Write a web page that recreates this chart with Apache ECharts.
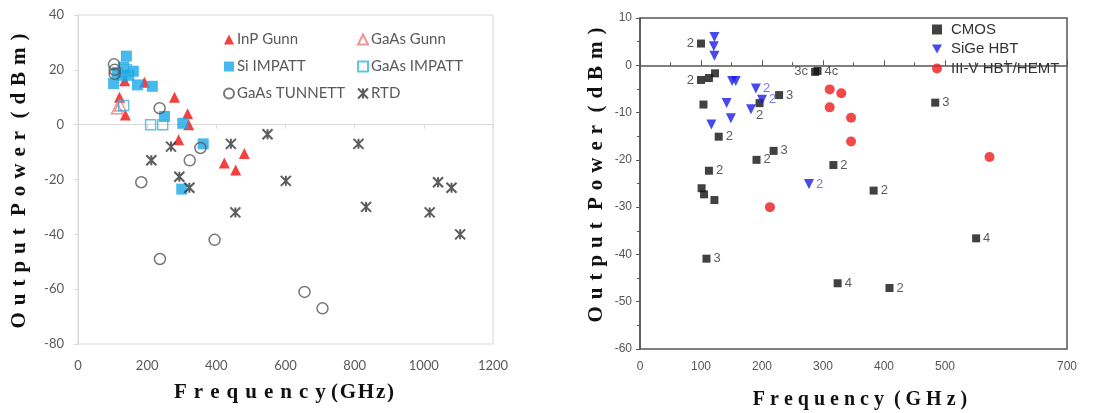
<!DOCTYPE html>
<html><head><meta charset="utf-8">
<script src="https://cdn.jsdelivr.net/npm/echarts@6/dist/echarts.min.js"></script>
<style>html,body{margin:0;padding:0;background:#fff}#c{width:1112px;height:413px}</style>
</head><body><div id="c"></div>
<script>
// ---------- Left chart data: [frequency GHz, output power dBm] ----------
const inpGunn = [[120,10],[137,3.5],[135,16],[192,15.5],[279,10],[317,4],[320,0],[291,-5.5],[423,-14],[456,-16.5],[481,-10.5]];
const gaasGunn = [[113,6],[122,7]];
const siImpatt = [[103,15],[140,25],[113,19],[128,18],[147,18],[160,19.5],[172,14.5],[215,14],[250,3],[303,0.5],[362,-7],[300,-23.5],[132,21]];
const gaasImpatt = [[132,7],[210,0],[245,0],[140,20]];
const gaasTunnett = [[104,22],[106,20],[106,18.5],[236,6],[323,-13],[354,-8.5],[183,-21],[237,-49],[395,-42],[655,-61],[707,-67]];
const rtd = [[212,-13],[269,-8],[293,-19],[322,-23],[442,-7],[548,-3.5],[601,-20.5],[811,-7],[833,-30],[1041,-21],[1080,-23],[1017,-32],[455,-32],[1105,-40]];
const leftXTicks = [0,200,400,600,800,1000,1200];
const leftYTicks = [-80,-60,-40,-20,0,20,40];

// ---------- Right chart data ----------
const cmos = [[100,4.6],[100,-3.1],[113,-2.7],[123,-1.7],[104,-8.3],[129,-15.1],[196,-8],[228,-6.3],[287,-1.4],[291,-1.2],[484,-7.9],[219,-18.1],[191,-20],[317,-21.1],[113,-22.3],[101,-26],[105,-27.3],[122,-28.5],[383,-26.5],[109,-40.9],[324,-46.1],[409,-47.1],[551,-36.6]];
const cmosLabels = ['2','2','','','','2','2','3','3c','4c','3','3','2','2','2','','','','2','3','4','2','4'];
const sige = [[122,6],[121,4],[122,2],[151,-3.3],[157,-3.3],[142,-8],[149,-11.2],[117,-12.5],[190,-4.9],[200,-7.3],[182,-9.3],[277,-25.1]];
const sigeLabels = ['','','','','','','','','2','2','','2'];
const iiiv = [[311,-5.1],[330,-5.9],[311,-8.9],[346,-11.1],[346,-16.1],[573,-19.4],[213,-30]];
const rightXTickLabels = ['0','100','200','300','400','500','','700'];

// ---------- titles ----------
const G = '\u2004';
function sp(s, g){ return s.split('').join(g); }
const yTitle = sp('Output', G) + G + ' ' + sp('Power', G) + G + ' ' + sp('(dBm)', G);
const xTitleL = sp('Frequency', G) + ' ' + sp('(GHz)', '\u200A');
const xTitleR = sp('Frequency', ' ') + '  ' + sp('(GHz)', ' ');

const cmosPos = {0:'left',1:'left',8:'left',6:'bottom'};

const chart = echarts.init(document.getElementById('c'));
const lblFont = 'Lato, "Liberation Sans", sans-serif';
const arial = '"Liberation Sans", Arial, sans-serif';
const star = 'path://M0,0L10,10M10,0L0,10M5,0L5,10';
const downTri = 'path://M0,0L10,0L5,9Z';

chart.setOption({
  animation:false,
  grid:[
    {left:78, top:15, width:415, height:329, show:true, borderColor:'#d9d9d9', borderWidth:1},
    {left:640, top:18, width:427, height:331, show:true, borderColor:'#555', borderWidth:1.5}
  ],
  xAxis:[
    {gridIndex:0, type:'value', min:leftXTicks[0], max:leftXTicks[leftXTicks.length-1], interval:200,
     axisLine:{lineStyle:{color:'#d9d9d9'}}, axisTick:{show:true, length:4, lineStyle:{color:'#d9d9d9'}},
     axisLabel:{color:'#595959', fontSize:13, fontFamily:lblFont, margin:15, formatter:(v)=>String(v)}, splitLine:{show:false}},
    {gridIndex:1, type:'value', min:0, max:700, interval:100,
     axisLine:{lineStyle:{color:'#555', width:1.5}}, axisTick:{show:true, inside:true, length:5, lineStyle:{color:'#555'}},
     minorTick:{show:true, splitNumber:2, length:3, lineStyle:{color:'#555'}},
     axisLabel:{color:'#555', fontSize:12, fontFamily:arial, margin:12, formatter:(v)=>rightXTickLabels[Math.round(v/100)]},
     splitLine:{show:false}}
  ],
  yAxis:[
    {gridIndex:0, type:'value', min:leftYTicks[0], max:leftYTicks[leftYTicks.length-1], interval:20,
     axisLine:{show:true, lineStyle:{color:'#d9d9d9'}}, axisTick:{show:true, length:4, lineStyle:{color:'#d9d9d9'}},
     axisLabel:{color:'#595959', fontSize:13, fontFamily:lblFont, margin:14}, splitLine:{show:false}},
    {gridIndex:1, type:'value', min:-60, max:10, interval:10,
     axisLine:{show:true, lineStyle:{color:'#555', width:1.5}}, axisTick:{show:true, length:4, lineStyle:{color:'#555'}},
     minorTick:{show:true, splitNumber:2, length:3, lineStyle:{color:'#555'}},
     axisLabel:{color:'#555', fontSize:12, fontFamily:arial, margin:8}, splitLine:{show:false}}
  ],
  legend:[
    {data:['InP Gunn','Si IMPATT','GaAs TUNNETT'], orient:'vertical', left:218, top:27, itemWidth:10, itemHeight:10, itemGap:12,
     textStyle:{color:'#595959', fontSize:15, fontFamily:lblFont, padding:[0,0,0,-2]}},
    {data:['GaAs Gunn','GaAs IMPATT','RTD'], orient:'vertical', left:352, top:27, itemWidth:10, itemHeight:10, itemGap:12,
     textStyle:{color:'#595959', fontSize:15, fontFamily:lblFont, padding:[0,0,0,-2]}},
    {data:[{name:'CMOS'},{name:'SiGe HBT', icon:downTri},{name:'III-V HBT/HEMT'}], orient:'vertical', left:927, top:17, itemWidth:10, itemHeight:10, itemGap:4.5,
     textStyle:{color:'#333', fontSize:15, fontFamily:arial, padding:[0,0,0,4]}}
  ],
  graphic:[
    {type:'text', x:20, y:181, rotation:Math.PI/2, style:{text:yTitle, font:'bold 21px "Liberation Serif", serif', fill:'#111', textAlign:'center', textVerticalAlign:'middle'}},
    {type:'text', x:284, y:393, style:{text:xTitleL, font:'bold 21px "Liberation Serif", serif', fill:'#111', textAlign:'center', textVerticalAlign:'middle'}},
    {type:'text', x:597, y:175, rotation:Math.PI/2, style:{text:yTitle, font:'bold 21px "Liberation Serif", serif', fill:'#111', textAlign:'center', textVerticalAlign:'middle'}},
    {type:'text', x:860, y:400, style:{text:xTitleR, font:'bold 20px "Liberation Serif", serif', fill:'#111', textAlign:'center', textVerticalAlign:'middle'}}
  ],
  series:[
    {name:'InP Gunn', type:'scatter', xAxisIndex:0, yAxisIndex:0, data:inpGunn, symbol:'triangle', symbolSize:11, itemStyle:{color:'#ee1111'}},
    {name:'GaAs Gunn', type:'scatter', xAxisIndex:0, yAxisIndex:0, data:gaasGunn, symbol:'triangle', symbolSize:11, itemStyle:{color:'rgba(255,255,255,0)', borderColor:'#e77b80', borderWidth:1.5}},
    {name:'Si IMPATT', type:'scatter', xAxisIndex:0, yAxisIndex:0, data:siImpatt, symbol:'rect', symbolSize:11, itemStyle:{color:'#1aa7e8'}},
    {name:'GaAs IMPATT', type:'scatter', xAxisIndex:0, yAxisIndex:0, data:gaasImpatt, symbol:'rect', symbolSize:10, itemStyle:{color:'rgba(255,255,255,0)', borderColor:'#3fb3de', borderWidth:1.5}},
    {name:'GaAs TUNNETT', type:'scatter', xAxisIndex:0, yAxisIndex:0, data:gaasTunnett, symbol:'circle', symbolSize:11, itemStyle:{color:'rgba(255,255,255,0)', borderColor:'#555', borderWidth:1.5}},
    {name:'RTD', type:'scatter', xAxisIndex:0, yAxisIndex:0, data:rtd, symbol:star, symbolSize:10, itemStyle:{color:'#333', borderColor:'#333', borderWidth:2}},
    {name:'CMOS', type:'scatter', xAxisIndex:1, yAxisIndex:1, symbol:'rect', symbolSize:8, itemStyle:{color:'#111'},
     data:cmos.map((d,i)=>({value:d, label:{show:cmosLabels[i]!=='', formatter:cmosLabels[i], position:cmosPos[i]||'right', distance:cmosPos[i]==='bottom'?2:3}})),
     label:{color:'#333', fontSize:13, fontFamily:arial}},
    {name:'SiGe HBT', type:'scatter', xAxisIndex:1, yAxisIndex:1, symbol:downTri, symbolSize:10, itemStyle:{color:'#1a1ae6'},
     data:sige.map((d,i)=>({value:d, label:{show:sigeLabels[i]!=='', formatter:sigeLabels[i], position:'right', distance:2}})),
     label:{color:'#5a5ae0', fontSize:13, fontFamily:arial}},
    {name:'III-V HBT/HEMT', type:'scatter', xAxisIndex:1, yAxisIndex:1, data:iiiv, symbol:'circle', symbolSize:10, itemStyle:{color:'#ee1c1c'}}
  ]
});
</script></body></html>
